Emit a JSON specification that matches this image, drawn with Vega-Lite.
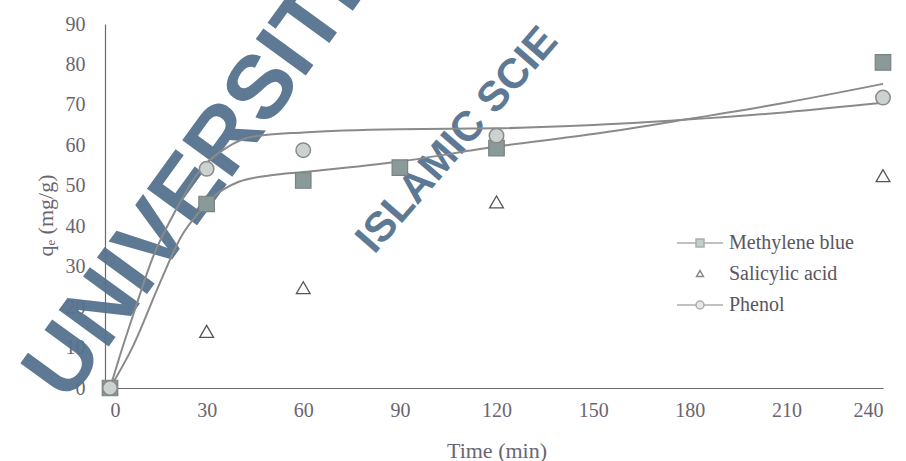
{
  "$schema": "https://vega.github.io/schema/vega-lite/v6.json",
  "width": 773,
  "height": 364,
  "autosize": {"type": "none"},
  "padding": {"left": 110, "top": 24, "right": 23, "bottom": 73},
  "background": "white",
  "datasets": {
    "points": [
      {"series": "Methylene blue", "t": 0, "v": 0},
      {"series": "Methylene blue", "t": 30, "v": 45.5},
      {"series": "Methylene blue", "t": 60, "v": 51.3},
      {"series": "Methylene blue", "t": 90, "v": 54.5},
      {"series": "Methylene blue", "t": 120, "v": 59.3},
      {"series": "Methylene blue", "t": 240, "v": 80.5},
      {"series": "Salicylic acid", "t": 0, "v": 0},
      {"series": "Salicylic acid", "t": 30, "v": 14},
      {"series": "Salicylic acid", "t": 60, "v": 24.8},
      {"series": "Salicylic acid", "t": 120, "v": 46},
      {"series": "Salicylic acid", "t": 240, "v": 52.5},
      {"series": "Phenol", "t": 0, "v": 0},
      {"series": "Phenol", "t": 30, "v": 54.2},
      {"series": "Phenol", "t": 60, "v": 58.8},
      {"series": "Phenol", "t": 120, "v": 62.4},
      {"series": "Phenol", "t": 240, "v": 71.8}
    ],
    "curves": [
      {"series": "Phenol", "t": 0, "v": 0},
      {"series": "Phenol", "t": 3, "v": 7.8},
      {"series": "Phenol", "t": 7, "v": 17.6},
      {"series": "Phenol", "t": 13, "v": 31.7},
      {"series": "Phenol", "t": 21, "v": 44.8},
      {"series": "Phenol", "t": 28, "v": 53.9},
      {"series": "Phenol", "t": 36, "v": 59.3},
      {"series": "Phenol", "t": 44, "v": 62.1},
      {"series": "Phenol", "t": 60, "v": 63.2},
      {"series": "Phenol", "t": 90, "v": 64},
      {"series": "Phenol", "t": 120, "v": 64.2},
      {"series": "Phenol", "t": 150, "v": 65},
      {"series": "Phenol", "t": 178, "v": 66.3},
      {"series": "Phenol", "t": 210, "v": 68.2},
      {"series": "Phenol", "t": 240, "v": 70.5},
      {"series": "Methylene blue", "t": 0, "v": 0},
      {"series": "Methylene blue", "t": 7, "v": 10.1},
      {"series": "Methylene blue", "t": 15.5, "v": 26},
      {"series": "Methylene blue", "t": 22, "v": 37.3},
      {"series": "Methylene blue", "t": 27.5, "v": 43.3},
      {"series": "Methylene blue", "t": 32, "v": 47.2},
      {"series": "Methylene blue", "t": 40, "v": 51},
      {"series": "Methylene blue", "t": 50, "v": 52.6},
      {"series": "Methylene blue", "t": 60, "v": 53.4},
      {"series": "Methylene blue", "t": 90, "v": 56},
      {"series": "Methylene blue", "t": 120, "v": 59.7},
      {"series": "Methylene blue", "t": 150, "v": 62.8},
      {"series": "Methylene blue", "t": 178, "v": 66.3},
      {"series": "Methylene blue", "t": 210, "v": 70.6},
      {"series": "Methylene blue", "t": 240, "v": 75.2}
    ],
    "watermark": [
      {"label": "UNIVERSITI", "t": 26, "v": 50.5},
      {"label": "ISLAMIC SCIE", "t": 79, "v": 35}
    ]
  },
  "encoding": {
    "x": {
      "field": "t", "type": "quantitative",
      "scale": {"domain": [0, 240], "nice": false, "zero": false},
      "axis": {"values": [0, 30, 60, 90, 120, 150, 180, 210, 240], "title": "Time (min)", "titlePadding": 20, "labelPadding": 12, "grid": false, "ticks": false}
    },
    "y": {
      "field": "v", "type": "quantitative",
      "scale": {"domain": [0, 90], "nice": false},
      "axis": {"values": [0, 10, 20, 30, 40, 50, 60, 70, 80, 90], "title": "qₑ (mg/g)", "offset": 5, "labelPadding": 20, "titlePadding": 8, "titleY": 191, "grid": false, "ticks": false}
    }
  },
  "layer": [
    {
      "data": {"name": "watermark"},
      "transform": [{"filter": "datum.label == 'UNIVERSITI'"}],
      "mark": {"type": "text", "angle": -54, "font": "Liberation Sans", "fontWeight": "bold", "fontSize": 90, "align": "center", "baseline": "middle", "color": "#56728f", "opacity": 0.95},
      "encoding": {"text": {"field": "label"}}
    },
    {
      "data": {"name": "watermark"},
      "transform": [{"filter": "datum.label != 'UNIVERSITI'"}],
      "mark": {"type": "text", "angle": -49, "font": "Liberation Sans", "fontWeight": "bold", "fontSize": 42, "align": "left", "baseline": "middle", "color": "#56728f", "opacity": 0.95},
      "encoding": {"text": {"field": "label"}}
    },
    {
      "data": {"name": "curves"},
      "mark": {"type": "line", "interpolate": "monotone", "color": "#8a8a8a", "strokeWidth": 2},
      "encoding": {"detail": {"field": "series"}}
    },
    {
      "data": {"name": "points"},
      "transform": [{"filter": "datum.series == 'Salicylic acid'"}],
      "mark": {"type": "point", "shape": "triangle-up", "filled": false, "fill": "white", "fillOpacity": 1, "stroke": "#555555", "strokeWidth": 1.3, "size": 190, "opacity": 1}
    },
    {
      "data": {"name": "points"},
      "transform": [{"filter": "datum.series == 'Methylene blue'"}],
      "mark": {"type": "point", "shape": "square", "filled": true, "fill": "#8a9a98", "stroke": "#7a8280", "strokeWidth": 1.2, "size": 240, "opacity": 1}
    },
    {
      "data": {"name": "points"},
      "transform": [{"filter": "datum.series == 'Phenol'"}],
      "mark": {"type": "point", "shape": "circle", "filled": true, "fill": "#ccd2d2", "stroke": "#8a8a8a", "strokeWidth": 1.5, "size": 210, "opacity": 1}
    },
    {
      "data": {"name": "points"},
      "transform": [{"filter": "datum.t < 0"}],
      "mark": {"type": "point", "filled": true, "strokeWidth": 1.5},
      "encoding": {
        "shape": {
          "field": "series", "type": "nominal",
          "scale": {"domain": ["Methylene blue", "Salicylic acid", "Phenol"], "range": ["M-5.75,0H-1M-1,-1H1V1H-1ZM1,0H5.75", "M0,-0.85L0.85,0.6H-0.85Z", "M-5.75,0H-1M-1,0A1,1 0 1,0 1,0A1,1 0 1,0 -1,0M1,0H5.75"]},
          "legend": {"title": null, "orient": "none", "legendX": 580, "legendY": 209, "symbolSize": 64, "symbolStrokeWidth": 1.5, "labelOffset": 19, "rowPadding": 11, "labelFont": "Liberation Serif", "labelFontSize": 20, "labelColor": "#5a5560", "labelLimit": 300}
        },
        "fill": {
          "field": "series", "type": "nominal",
          "scale": {"domain": ["Methylene blue", "Salicylic acid", "Phenol"], "range": ["#8a9a98", "white", "#ccd2d2"]},
          "legend": {"title": null, "orient": "none", "legendX": 580, "legendY": 209, "symbolSize": 64, "symbolStrokeWidth": 1.5, "labelOffset": 19, "rowPadding": 11, "labelFont": "Liberation Serif", "labelFontSize": 20, "labelColor": "#5a5560", "labelLimit": 300}
        },
        "stroke": {
          "field": "series", "type": "nominal",
          "scale": {"domain": ["Methylene blue", "Salicylic acid", "Phenol"], "range": ["#8a8a8a", "#555555", "#8a8a8a"]},
          "legend": {"title": null, "orient": "none", "legendX": 580, "legendY": 209, "symbolSize": 64, "symbolStrokeWidth": 1.5, "labelOffset": 19, "rowPadding": 11, "labelFont": "Liberation Serif", "labelFontSize": 20, "labelColor": "#5a5560", "labelLimit": 300}
        }
      }
    }
  ],
  "config": {
    "view": {"stroke": null},
    "axis": {
      "zindex": 1,
      "domainColor": "#6e6670",
      "domainWidth": 1.2,
      "labelFont": "Liberation Serif",
      "labelFontSize": 20,
      "labelColor": "#6b6570",
      "titleFont": "Liberation Serif",
      "titleFontSize": 22,
      "titleFontWeight": "normal",
      "titleColor": "#6b6570"
    }
  }
}
